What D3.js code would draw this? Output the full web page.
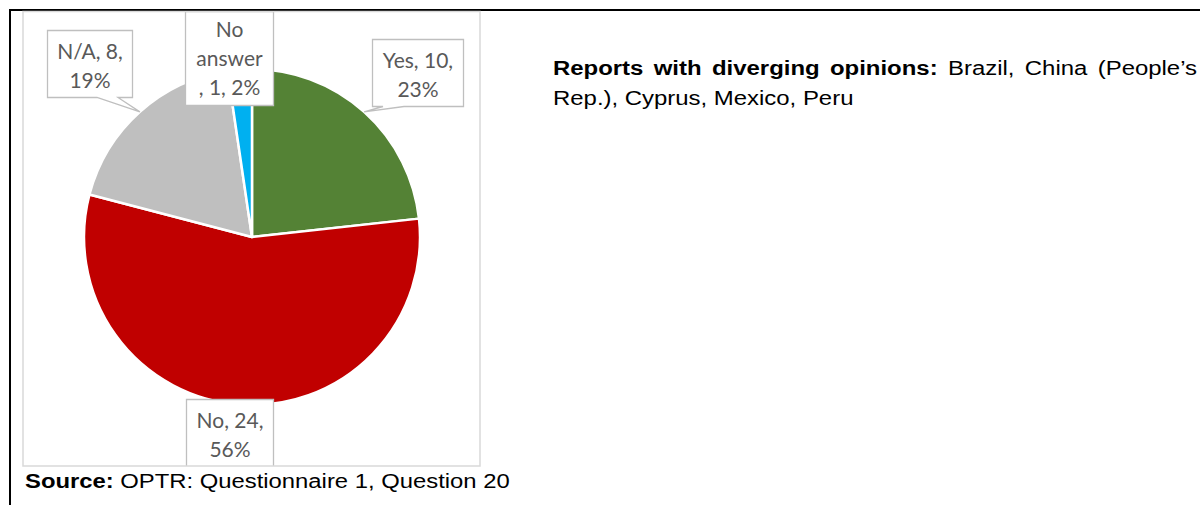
<!DOCTYPE html>
<html>
<head>
<meta charset="utf-8">
<script src="https://cdn.jsdelivr.net/npm/d3@7"></script>
<style>
  body { margin: 0; background: #fff; }
  svg { display: block; }
</style>
</head>
<body>
<svg id="chart" width="1200" height="505"></svg>
<script>
// Survey answers (OPTR Questionnaire 1, Question 20)
const categories = ["Yes", "No", "N/A", "No answer"];
const counts = [10, 24, 8, 1];
const percents = [23, 56, 19, 2];
const sliceColors = ["#548235", "#C00000", "#BFBFBF", "#00B0F0"];

// Side note and source line
const noteBold = "Reports with diverging opinions:";
const noteLine1 = " Brazil, China (People\u2019s";
const noteLine2 = "Rep.), Cyprus, Mexico, Peru";
const sourceBold = "Source:";
const sourceText = " OPTR: Questionnaire 1, Question 20";

const svg = d3.select("#chart");

// Page rules (top and left)
svg.append("line").attr("x1", 9).attr("x2", 1200).attr("y1", 10).attr("y2", 10)
  .attr("stroke", "#000").attr("stroke-width", 2);
svg.append("line").attr("x1", 10).attr("x2", 10).attr("y1", 9).attr("y2", 505)
  .attr("stroke", "#000").attr("stroke-width", 2);

// Chart area frame
const frame = { x: 23, y: 11.5, w: 457, h: 454.5 };
svg.append("defs").append("clipPath").attr("id", "frameClip")
  .append("rect").attr("x", frame.x).attr("y", frame.y).attr("width", frame.w).attr("height", frame.h);

const chart = svg.append("g").attr("clip-path", "url(#frameClip)");

const data = categories.map((c, i) => ({ cat: c, count: counts[i], pct: percents[i], color: sliceColors[i] }));

const cx = 252, cy = 237, R = 168;
const pie = d3.pie().sort(null).value(d => d.count).startAngle(0).endAngle(2 * Math.PI);
const arcs = pie(data);
const arc = d3.arc().innerRadius(0).outerRadius(R);
const edgeArc = d3.arc().innerRadius(R).outerRadius(R);

const pieG = chart.append("g").attr("transform", `translate(${cx},${cy})`);
pieG.selectAll("path").data(arcs).join("path")
  .attr("d", arc)
  .attr("fill", d => d.data.color)
  .attr("stroke", "#fff")
  .attr("stroke-width", 2.5)
  .attr("stroke-linejoin", "round");

// Callout boxes: position of each box, and the base of its tail on the bottom edge (if any)
const boxes = {
  "Yes":       { x: 372.5, y: 39.5, w: 91, h: 67, tail: [383, 404] },
  "No":        { x: 186.5, y: 399.5, w: 87, h: 80, tail: null },
  "N/A":       { x: 47.5, y: 30.5, w: 85, h: 67, tail: [97, 118] },
  "No answer": { x: 185.5, y: 11.5, w: 88, h: 94, tail: null }
};

function labelLines(d) {
  const words = d.data.cat.split(" ");
  if (words.length > 1) return [...words, `, ${d.data.count}, ${d.data.pct}%`];
  return [`${d.data.cat}, ${d.data.count},`, `${d.data.pct}%`];
}

const labelG = chart.append("g");
arcs.forEach(d => {
  const b = boxes[d.data.cat];
  let path;
  if (b.tail) {
    const [tx, ty] = edgeArc.centroid(d);
    const tip = [cx + tx, cy + ty];
    const yb = b.y + b.h;
    path = `M${b.x},${b.y}H${b.x + b.w}V${yb}H${b.tail[1]}L${tip[0]},${tip[1]}L${b.tail[0]},${yb}H${b.x}Z`;
  } else {
    path = `M${b.x},${b.y}H${b.x + b.w}V${b.y + b.h}H${b.x}Z`;
  }
  labelG.append("path").attr("d", path)
    .attr("fill", "#fff").attr("stroke", "#BFBFBF").attr("stroke-width", 1.3);

  const lines = labelLines(d);
  const lh = 29;
  const midX = b.x + b.w / 2;
  const firstBase = d.data.cat === "No answer" ? 37 : b.y + 28;
  const t = labelG.append("text")
    .attr("font-family", "Lato, 'Open Sans', sans-serif")
    .attr("font-size", 21)
    .attr("fill", "#595959")
    .attr("text-anchor", "middle");
  lines.forEach((ln, i) => {
    t.append("tspan").attr("x", midX).attr("y", firstBase + i * lh).text(ln);
  });
});

// Frame drawn above the slices
svg.append("rect").attr("x", frame.x).attr("y", frame.y).attr("width", frame.w).attr("height", frame.h)
  .attr("fill", "none").attr("stroke", "#D9D9D9").attr("stroke-width", 1.5);

// Text blocks in a slightly widened Arial-style face
const textFont = "'Liberation Sans', Arial, sans-serif";

function richText(x, y, parts, sx) {
  const g = svg.append("g").attr("transform", `translate(${x},${y}) scale(${sx},1)`);
  const t = g.append("text").attr("font-family", textFont).attr("font-size", 21).attr("fill", "#000");
  parts.forEach(p => t.append("tspan").attr("font-weight", p.bold ? "bold" : "normal").text(p.text));
  return t;
}

// First line of the note is justified across the column
const noteScale = 1.14;
const note1 = richText(553, 75, [{ text: noteBold, bold: true }, { text: noteLine1, bold: false }], noteScale);
const natural = note1.node().getComputedTextLength();
const target = (1197 - 553) / noteScale;
const spaces = (noteBold + noteLine1).split(" ").length - 1;
note1.attr("word-spacing", Math.max(0, (target - natural) / spaces));

richText(553, 105, [{ text: noteLine2, bold: false }], noteScale);
richText(25, 488, [{ text: sourceBold, bold: true }, { text: sourceText, bold: false }], 1.135);
</script>
</body>
</html>
